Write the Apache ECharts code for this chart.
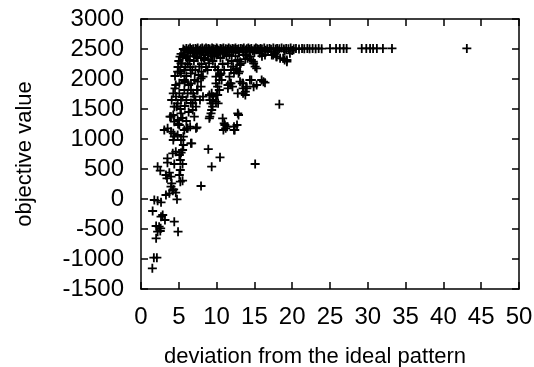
<!DOCTYPE html>
<html>
<head>
<meta charset="utf-8">
<script src="https://cdn.jsdelivr.net/npm/echarts@6/dist/echarts.min.js"></script>
<style>html,body{margin:0;padding:0;background:#fff}#c{width:534px;height:367px}</style>
</head>
<body>
<div id="c"></div>
<script>
// axis settings
const xTitle = "deviation from the ideal pattern";
const yTitle = "objective value";
const xMin = 0, xMax = 50, xStep = 5;
const yMin = -1500, yMax = 3000, yStep = 500;

// points [deviation, objective value]
const lowCloud = [
  [1.5,-1155],[1.7,-978],[2.1,-978],[2.0,-655],[2.2,-545],[2.55,-533],[2.0,-450],[2.4,-462],[2.6,-488],
  [4.4,-378],[4.9,-545],[2.87,-267],[3.17,-350],[2.65,-295],[1.54,-200],[1.76,-17],[2.2,-28],[2.65,-55],
  [4.76,-5],[3.3,67],[3.75,95],[4.2,138],[4.6,105],[3.97,205],[4.32,162],[4.06,262],[5.2,288],[5.5,305],
  [3.44,345],[3.97,372],[3.3,400],[5.07,400],[5.2,483],[3.75,438],[2.2,538],[2.55,472],[3.5,605],[4.4,583],
  [5.5,583],[5.2,650],[4.2,762],[4.6,788],[5.07,733],[5.3,772],[3.5,678],[5.5,817],[6.6,928],[5.6,900],[6.7,928]
];
const outliers = [
  [7.94,217],[9.35,538],[10.45,695],[8.9,830],[15.1,583],[18.3,1578]
];
const midCloud = [
  [3.08,1150],[3.52,1178],[3.97,1122],[4.4,1038],[4.85,1067],[5.29,983],[5.73,1150],[6.17,1178],[7.27,1178],
  [4.27,1095],[4.27,983],[5.6,1038],[6.05,1178],[6.5,1205],[7.4,1195],[3.97,1372],[4.4,1288],[4.85,1317],
  [5.07,1233],[5.29,1428],[3.84,1372],[4.27,1400],[4.72,1538],[4.4,1538],[4.85,1595],[5.29,1650],[4.63,1705],
  [5.07,1762],[4.06,1650],[4.27,1762],[4.5,1845],[5.73,1817],[6.17,1762],[6.61,1817],[7.05,1705],[6.84,1595],
  [7.27,1538],[6.84,1483],[7.05,1372],[7.49,1817],[7.94,1872],[7.49,1955],[7.94,2012],[6.61,1928],[5.73,1983],
  [5.07,1928],[9.04,1733],[9.48,1650],[9.26,1595],[9.92,1622],[9.04,1345],[9.26,1428],[9.48,1538],[10.14,1733],
  [10.36,1817],[9.1,1372],[9.35,1483],[9.1,1650],[9.56,1705],[10.0,1733],[10.2,1595],[9.35,1762],
  [10.8,1345],[11.0,1262],[11.2,1178],[12.3,1205],[12.8,1428],[12.3,1150],[11.1,1233],[11.4,1205],[10.9,1150],
  [12.4,1150],[12.7,1233],[12.9,1400],[10.36,1983],[9.92,1928],[10.14,1872],[11.9,1928],[11.5,1900],[12.1,1872],
  [12.8,1762],[13.4,1928],[13.9,1872],[11.5,1845],[11.8,1928],[13.1,1955],[13.5,1845],[13.8,1733],[14.4,1983],
  [15.3,1900],[16.2,1955],[13.5,1928],[14.0,1845],[13.8,1788],[14.9,1872],[15.96,1983],[16.4,1938],[14.6,1983],
  [13.5,1762],[7.1,1983],[7.4,1817],[6.9,1762],[7.8,1650],[8.2,1705],[10.67,1983],
  [5.8,1950],[6.3,1900],[4.6,1900],[5.5,1700],[6.0,1650],[5.8,1550],[5.2,1500],[6.3,1450],[5.5,1350],
  [6.0,1300],[4.9,1250],[6.6,1600],[7.2,1650]
];
const upperCloud = [
  [5.16,2372],[5.4,2262],[5.16,2122],[5.5,2372],[5.29,2262],[6.4,2317],[7.05,2428],[6.6,2095],[7.7,2205],
  [8.4,2317],[8.8,2150],[8.2,2038],[9.0,2262],[9.7,2372],[11.0,2428],[11.5,2262],[4.85,2122],[5.29,2095],
  [5.73,2150],[10.14,2150],[10.58,2095],[9.92,2038],[11.7,2038],[12.8,2317],[13.2,2262],[12.6,2178],[13.0,2122],
  [14.1,2345],[8.0,2122],[7.6,2067],[10.2,2150],[10.45,2067],[12.2,2205],[12.65,2150],[12.9,2095],[15.1,2205],
  [14.85,2288],[14.4,2372],[14.0,2400],[17.95,2372],[18.8,2345],[19.3,2317],[17.7,2428],[17.3,2400],[13.1,2288],
  [13.1,2233],[14.6,2317],[14.9,2262],[15.3,2178],[15.7,2428],[16.4,2400],[17.5,2400],[17.9,2372],[18.4,2345],
  [19.0,2317],[19.3,2288],[19.7,2428],[4.5,2050],[4.9,2200],[5.0,2300],[5.3,2420],[5.6,2400],[6.0,2350],
  [6.2,2250],[6.5,2200],[6.8,2150],[6.0,2050],[7.0,2300],[7.5,2350],[8.0,2250],[8.5,2400],[9.2,2420],[8.6,2200],
  [9.5,2300],[10.5,2350],[10.8,2250],[11.3,2380],[12.0,2300],[11.0,2150],[12.3,2100],[9.8,2200],[10.3,2420],
  [7.8,2420],[6.5,2450],[6.2,2380],[7.3,2380],[8.3,2350],[9.3,2380],[10.0,2400],[11.7,2400],[12.5,2380],
  [13.6,2400],[16.0,2380],[5.9,2200],[7.2,2150],[8.9,2330],[11.9,2150],[13.8,2330]
];
const topBand = [
  [5.6,2500],[5.8,2480],[6.0,2510],[6.2,2470],[6.3,2500],[6.5,2515],[6.7,2490],[6.9,2505],[7.0,2460],[7.2,2510],
  [7.4,2495],[7.5,2515],[7.7,2480],[7.9,2505],[8.1,2515],[8.2,2470],[8.4,2500],[8.6,2515],[8.7,2490],[8.9,2510],
  [9.1,2500],[9.3,2475],[9.4,2515],[9.6,2505],[9.8,2490],[10.0,2515],[10.1,2500],[10.3,2480],[10.5,2510],[10.7,2500],
  [10.9,2515],[11.0,2470],[11.2,2505],[11.4,2495],[11.6,2515],[11.8,2500],[12.0,2480],[12.1,2510],[12.3,2500],
  [12.5,2515],[12.7,2490],[12.9,2505],[13.0,2460],[13.2,2510],[13.4,2500],[13.6,2515],[13.8,2485],[14.0,2505],
  [14.2,2515],[14.4,2495],[14.6,2510],[14.8,2470],[15.0,2500],[15.2,2515],[15.4,2505],[15.6,2490],[15.8,2510],
  [16.0,2500],[16.3,2515],[16.5,2480],[16.7,2505],[17.0,2510],[17.2,2495],[17.5,2515],[17.8,2500],[18.0,2510],
  [18.3,2505],[18.6,2515],[18.9,2500],[19.2,2510],[19.5,2505],[19.8,2515],[20.2,2505],[20.5,2510],[20.9,2500],
  [21.3,2510],[21.6,2505],[22.0,2510],[22.3,2505],[22.7,2510],[23.1,2505],[23.5,2510],[23.9,2505],[25.0,2510],
  [25.8,2510],[26.3,2510],[26.8,2510],[27.2,2510],[29.2,2510],[29.8,2510],[30.3,2510],[30.7,2510],[31.2,2510],
  [32.0,2510],[33.2,2510],[43.1,2510],
  [6.1,2440],[6.8,2430],[7.3,2450],[8.0,2440],[8.8,2455],[9.5,2440],[10.2,2460],[10.8,2435],[11.5,2450],
  [12.2,2440],[12.9,2455],[13.5,2445],[14.3,2460],[15.0,2440],[15.7,2455],[16.8,2460],[18.1,2470],[19.0,2465],[20.0,2475]
];

const allPoints = [].concat(lowCloud, outliers, midCloud, upperCloud, topBand);

const font = "'Liberation Sans', Arial, Helvetica, sans-serif";
const plus = 'path://M-0.2,-1 L0.2,-1 L0.2,-0.2 L1,-0.2 L1,0.2 L0.2,0.2 L0.2,1 L-0.2,1 L-0.2,0.2 L-1,0.2 L-1,-0.2 L-0.2,-0.2 Z';

const lineStyle = { color: '#000', width: 1.5 };
const tickStyle = { show: true, inside: true, length: 7, lineStyle: { color: '#000', width: 1.5 } };
const plain = v => String(v);

const chart = echarts.init(document.getElementById('c'), null, { renderer: 'canvas' });
chart.setOption({
  animation: false,
  backgroundColor: '#fff',
  grid: { left: 141, right: 15, top: 19, bottom: 78, containLabel: false, outerBoundsMode: 'none' },
  xAxis: [
    {
      type: 'value', min: xMin, max: xMax, interval: xStep, position: 'bottom',
      name: xTitle, nameLocation: 'middle', nameGap: 57,
      nameTextStyle: { fontFamily: font, fontSize: 22, color: '#000', padding: [0, 30, 0, 0] },
      axisLine: { show: true, onZero: false, lineStyle: lineStyle },
      axisTick: tickStyle,
      axisLabel: { fontFamily: font, fontSize: 24, color: '#000', margin: 16, formatter: plain },
      splitLine: { show: false }
    },
    {
      type: 'value', min: xMin, max: xMax, interval: xStep, position: 'top',
      axisLine: { show: true, onZero: false, lineStyle: lineStyle },
      axisTick: tickStyle,
      axisLabel: { show: false },
      splitLine: { show: false }
    }
  ],
  yAxis: [
    {
      type: 'value', min: yMin, max: yMax, interval: yStep, position: 'left',
      name: yTitle, nameLocation: 'middle', nameGap: 105, nameRotate: 90,
      nameTextStyle: { fontFamily: font, fontSize: 22, color: '#000' },
      axisLine: { show: true, onZero: false, lineStyle: lineStyle },
      axisTick: tickStyle,
      axisLabel: { fontFamily: font, fontSize: 24, color: '#000', margin: 17, formatter: plain },
      splitLine: { show: false }
    },
    {
      type: 'value', min: yMin, max: yMax, interval: yStep, position: 'right',
      axisLine: { show: true, onZero: false, lineStyle: lineStyle },
      axisTick: tickStyle,
      axisLabel: { show: false },
      splitLine: { show: false }
    }
  ],
  series: [{
    type: 'scatter',
    xAxisIndex: 0, yAxisIndex: 0,
    symbol: plus,
    symbolSize: 9,
    itemStyle: { color: '#000', opacity: 1 },
    data: allPoints
  }]
});
</script>
</body>
</html>
